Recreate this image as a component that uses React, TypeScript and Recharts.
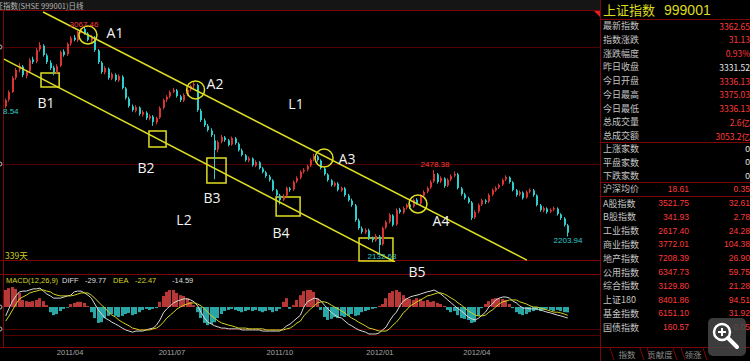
import React from 'react';
import {
  ComposedChart,
  Bar,
  Line,
  XAxis,
  YAxis,
  ReferenceLine,
  ReferenceDot,
  ReferenceArea
} from 'recharts';

// 上证指数 daily candles (2 trading days per candle)
const opens = [
  2740, 2768, 2800, 2858, 2892, 2904, 2866, 2884, 2934, 2925,
  2975, 2990, 2950, 2920, 2900, 2880, 2908, 2966, 2955, 2999,
  3024, 3012, 3049, 3058, 3040, 3012, 3024, 2970, 2920, 2880,
  2895, 2855, 2870, 2847, 2862, 2814, 2772, 2740, 2722, 2735,
  2706, 2714, 2690, 2698, 2674, 2694, 2735, 2768, 2781, 2801,
  2806, 2781, 2764, 2789, 2810, 2826, 2828, 2722, 2682, 2660,
  2640, 2600, 2562, 2595, 2612, 2600, 2583, 2608, 2586, 2558,
  2538, 2517, 2525, 2496, 2509, 2484, 2468, 2451, 2435, 2394,
  2373, 2356, 2373, 2402, 2398, 2431, 2447, 2472, 2480, 2496,
  2521, 2534, 2517, 2484, 2459, 2435, 2414, 2422, 2394, 2402,
  2373, 2352, 2332, 2270, 2237, 2221, 2229, 2196, 2188, 2204,
  2172, 2241, 2266, 2291, 2254, 2315, 2303, 2323, 2336, 2328,
  2356, 2340, 2373, 2389, 2406, 2431, 2460, 2431, 2443, 2414,
  2439, 2455, 2460, 2402, 2377, 2361, 2344, 2282, 2307, 2336,
  2352, 2348, 2377, 2394, 2406, 2418, 2439, 2447, 2427, 2394,
  2377, 2385, 2365, 2389, 2394, 2373, 2332, 2311, 2319, 2307,
  2315, 2319, 2295, 2278, 2250
];
const highs = [
  2772, 2806, 2865, 2898, 2918, 2910, 2890, 2938, 2945, 2980,
  3005, 2996, 2958, 2930, 2908, 2914, 2970, 2975, 3004, 3030,
  3034, 3052, 3062, 3067.46, 3046, 3034, 3030, 2976, 2926, 2906,
  2900, 2880, 2876, 2872, 2868, 2820, 2780, 2748, 2745, 2740,
  2724, 2720, 2708, 2704, 2698, 2740, 2772, 2786, 2806, 2816,
  2812, 2788, 2794, 2815, 2830, 2842, 2834, 2730, 2690, 2668,
  2650, 2625, 2600, 2622, 2618, 2606, 2616, 2614, 2592, 2566,
  2544, 2534, 2530, 2518, 2514, 2490, 2474, 2458, 2440, 2400,
  2380, 2378, 2410, 2408, 2435, 2452, 2476, 2486, 2500, 2526,
  2545, 2540, 2522, 2490, 2465, 2440, 2430, 2428, 2410, 2408,
  2380, 2360, 2338, 2278, 2245, 2238, 2236, 2204, 2214, 2210,
  2245, 2270, 2300, 2296, 2320, 2322, 2328, 2340, 2342, 2360,
  2362, 2378, 2394, 2410, 2436, 2478.38, 2466, 2452, 2448, 2444,
  2460, 2472, 2466, 2408, 2384, 2368, 2350, 2312, 2340, 2360,
  2358, 2382, 2402, 2410, 2422, 2443, 2456, 2452, 2432, 2400,
  2394, 2390, 2394, 2402, 2400, 2378, 2338, 2328, 2324, 2320,
  2328, 2324, 2300, 2284, 2256
];
const lows = [
  2732, 2760, 2795, 2850, 2880, 2860, 2855, 2878, 2915, 2918,
  2966, 2945, 2915, 2890, 2868, 2875, 2902, 2945, 2948, 2990,
  3008, 3005, 3040, 3035, 3008, 3004, 2965, 2915, 2874, 2872,
  2850, 2848, 2842, 2840, 2810, 2768, 2735, 2718, 2715, 2702,
  2698, 2684, 2682, 2660, 2666, 2688, 2728, 2758, 2774, 2795,
  2776, 2758, 2758, 2782, 2802, 2815, 2718, 2676, 2655, 2636,
  2614, 2440, 2550, 2588, 2594, 2575, 2578, 2582, 2554, 2534,
  2512, 2510, 2492, 2490, 2480, 2464, 2446, 2430, 2390, 2368,
  2336, 2350, 2368, 2388, 2392, 2424, 2440, 2464, 2472, 2490,
  2514, 2512, 2480, 2455, 2430, 2410, 2408, 2390, 2388, 2368,
  2348, 2326, 2265, 2232, 2215, 2214, 2190, 2180, 2182, 2132.63,
  2166, 2234, 2258, 2245, 2248, 2298, 2296, 2316, 2318, 2322,
  2335, 2334, 2366, 2382, 2400, 2425, 2422, 2424, 2405, 2408,
  2432, 2448, 2398, 2372, 2356, 2340, 2272, 2276, 2300, 2330,
  2338, 2342, 2370, 2388, 2400, 2412, 2432, 2422, 2390, 2368,
  2370, 2356, 2360, 2382, 2368, 2328, 2306, 2304, 2298, 2300,
  2308, 2290, 2272, 2245, 2203.94
];
const closes = [
  2766, 2799, 2857, 2890, 2906, 2869, 2882, 2931, 2923, 2972,
  2993, 2952, 2923, 2898, 2882, 2906, 2964, 2952, 2997, 3022,
  3014, 3047, 3055, 3042, 3014, 3026, 2972, 2923, 2882, 2898,
  2857, 2873, 2849, 2865, 2816, 2775, 2742, 2725, 2737, 2709,
  2717, 2692, 2700, 2676, 2692, 2733, 2766, 2779, 2799, 2808,
  2783, 2766, 2787, 2808, 2824, 2832, 2725, 2684, 2663, 2643,
  2622, 2560, 2593, 2614, 2602, 2581, 2610, 2589, 2560, 2540,
  2519, 2527, 2498, 2511, 2486, 2470, 2453, 2437, 2396, 2375,
  2354, 2371, 2404, 2396, 2429, 2445, 2470, 2478, 2494, 2519,
  2536, 2519, 2486, 2461, 2437, 2416, 2424, 2396, 2404, 2375,
  2354, 2334, 2272, 2239, 2223, 2231, 2198, 2190, 2206, 2169,
  2239, 2264, 2293, 2252, 2313, 2305, 2321, 2334, 2326, 2354,
  2342, 2371, 2387, 2404, 2429, 2462, 2429, 2445, 2412, 2437,
  2453, 2462, 2404, 2379, 2363, 2346, 2280, 2305, 2334, 2354,
  2346, 2375, 2396, 2404, 2416, 2437, 2449, 2429, 2396, 2375,
  2387, 2363, 2387, 2396, 2375, 2334, 2313, 2321, 2305, 2313,
  2321, 2297, 2280, 2252, 2220
];

// MACD(12,26,9)
const macdHist = [
  46, 51, 54, 49, 38, 19, 16, 14, 16, 19,
  24, 16, 5, -14, -22, -19, -11, -5, -2, 8,
  11, 14, 14, 11, 3, -14, -30, -43, -41, -30,
  -24, -19, -24, -27, -24, -19, -16, -22, -19, -14,
  -8, -5, -8, -5, -3, 14, 30, 41, 46, 46,
  38, 32, 30, 24, 14, 5, -14, -30, -43, -49,
  -46, -41, -30, -19, -11, -8, -5, -8, -11, -14,
  -11, -8, -11, -8, -11, -14, -11, -8, -14, -11,
  -5, 14, 24, -5, 5, 19, 32, 43, 46, 46,
  41, 24, -8, -27, -35, -32, -27, -30, -24, -27,
  -24, -19, -24, -22, -14, -11, -8, -5, -3, 3,
  8, 24, 38, 43, 46, 41, 32, 24, 22, 19,
  24, 22, 16, 19, 14, 16, 11, 8, 3, -8,
  -14, -11, -22, -30, -32, -35, -43, -41, -24, -3,
  8, 16, 22, 24, 24, 22, 19, 8, -3, -14,
  -19, -22, -19, -14, -11, -8, -11, -8, -5, -8,
  -11, -8, -11, -14, -14.59
];
const macdDiff = [
  -24, -3, 16, 30, 41, 43, 43, 46, 49, 49,
  51, 43, 35, 30, 24, 24, 24, 27, 30, 32,
  41, 43, 43, 38, 32, 24, 8, -8, -19, -30,
  -35, -41, -46, -51, -57, -62, -65, -68, -65, -65,
  -65, -62, -59, -57, -49, -35, -16, -5, 3, 11,
  16, 19, 22, 22, 19, 14, 3, -14, -30, -41,
  -46, -51, -54, -57, -57, -59, -59, -59, -59, -62,
  -62, -62, -62, -62, -62, -65, -65, -65, -65, -65,
  -65, -59, -51, -46, -38, -30, -22, 0, 14, 19,
  24, 22, 16, 5, -5, -14, -22, -27, -30, -38,
  -46, -51, -57, -62, -65, -68, -73, -73, -73, -70,
  -62, -54, -38, -24, -14, 3, 16, 22, 27, 30,
  32, 35, 38, 41, 43, 46, 41, 35, 27, 19,
  11, 3, -5, -11, -19, -27, -32, -35, -30, -22,
  -14, 0, 8, 19, 24, 27, 27, 24, 16, 11,
  3, -3, -3, -5, -5, -5, -8, -11, -14, -16,
  -19, -22, -24, -27, -29.77
];
const macdDea = [
  -38, -24, -8, 8, 22, 27, 32, 38, 41, 43,
  46, 46, 43, 41, 35, 32, 30, 30, 30, 30,
  32, 35, 38, 38, 38, 32, 24, 14, 5, -3,
  -14, -22, -27, -35, -41, -46, -51, -57, -59, -62,
  -62, -62, -62, -59, -57, -51, -41, -30, -22, -14,
  -5, 0, 5, 8, 11, 11, 8, 3, -5, -14,
  -24, -30, -38, -43, -46, -49, -51, -54, -57, -57,
  -57, -59, -59, -59, -59, -59, -62, -62, -62, -62,
  -62, -62, -59, -57, -51, -43, -38, -24, -14, -5,
  3, 11, 14, 14, 11, 5, 0, -5, -11, -16,
  -24, -30, -35, -41, -46, -51, -57, -59, -62, -65,
  -65, -65, -59, -49, -41, -30, -16, -8, 3, 8,
  14, 19, 24, 30, 32, 35, 38, 38, 35, 30,
  24, 19, 11, 5, -3, -11, -16, -22, -24, -24,
  -22, -14, -8, 0, 8, 14, 16, 19, 19, 19,
  14, 11, 8, 3, 0, 0, -3, -5, -8, -11,
  -14, -14, -16, -19, -22.47
];

const tickIdx = [18.8, 48.5, 80, 109.2, 137.5];
const tickLabels = ['2011/04', '2011/07', '2011/10', '2012/01', '2012/04'];

// channel drawn on the chart (candle index, price)
const lineL1 = [{ x: 10.9, y: 3129 }, { x: 152.1, y: 2107 }];
const lineL2 = [{ x: -0.5, y: 2935 }, { x: 113.6, y: 2099 }];
const rings = [
  { x: 24, y: 3034 },
  { x: 55.4, y: 2808 },
  { x: 92.9, y: 2527 },
  { x: 120.3, y: 2338 }
];
const boxes = [
  { x1: 10.3, x2: 15.6, y1: 2820, y2: 2878 },
  { x1: 41.8, x2: 46.8, y1: 2573, y2: 2639 },
  { x1: 58.7, x2: 64.3, y1: 2424, y2: 2527 },
  { x1: 78.9, x2: 85.9, y1: 2288, y2: 2367 },
  { x1: 103.1, x2: 113.0, y1: 2103, y2: 2198 }
];

// right-hand quote panel
const quoteLabels = ['最新指数', '指数涨跌', '涨跌幅度', '昨日收盘', '今日开盘', '今日最高', '今日最低', '总成交量', '总成交额'];
const quoteValues = ['3362.65', '31.13', '0.93%', '3331.52', '3336.13', '3375.03', '3336.13', '2.6亿', '3053.2亿'];
const breadthLabels = ['上涨家数', '平盘家数', '下跌家数'];
const breadthValues = ['0', '0', '0'];
const indexLabels = ['A股指数', 'B股指数', '工业指数', '商业指数', '地产指数', '公用指数', '综合指数', '上证180', '基金指数', '国债指数'];
const indexValues = ['3521.75', '341.93', '2617.40', '3772.01', '7208.39', '6347.73', '3129.80', '8401.86', '6151.10', '160.57'];
const indexChanges = ['32.61', '2.78', '24.28', '104.38', '26.90', '59.75', '21.28', '94.51', '31.92', '0.05'];

const UP = '#d83434';
const DOWN = '#2fcccc';
const YEL = '#dede22';
const RED_TXT = '#ff3a3a';
const BORDER = '#7c0606';
const GRID = '#520000';
const CJK = '"Noto Sans CJK SC", sans-serif';
const NUM = '"Liberation Sans", Arial, sans-serif';

const kRows = closes.map((c, i) => ({ i, o: opens[i], h: highs[i], l: lows[i], c }));
const mRows = macdHist.map((v, i) => ({ i, hist: v, diff: macdDiff[i], dea: macdDea[i] }));

const Candle = (p: any) => {
  const { x, y, width, height, payload } = p;
  if (!payload || height == null || isNaN(y)) return <g />;
  const top = Math.min(y, y + height);
  const span = Math.abs(height);
  const k = span / (payload.h - payload.l || 1);
  const color = payload.c >= payload.o ? UP : DOWN;
  const bodyTop = top + (payload.h - Math.max(payload.o, payload.c)) * k;
  const bodyH = Math.max(1, Math.abs(payload.o - payload.c) * k);
  const cx = Math.round(x + width / 2);
  return (
    <g>
      <line x1={cx - 0.5} x2={cx - 0.5} y1={top} y2={top + span} stroke={color} strokeWidth={1} />
      <rect x={cx - 1} y={bodyTop} width={2} height={bodyH} fill={color} />
    </g>
  );
};

const HistBar = (p: any) => {
  const { x, y, width, height, payload } = p;
  if (!payload || height == null || isNaN(y)) return <g />;
  const top = Math.min(y, y + height);
  return (
    <rect
      x={Math.round(x)}
      y={top}
      width={Math.max(1, width)}
      height={Math.abs(height)}
      fill={payload.hist >= 0 ? '#b83838' : '#2aa6a6'}
    />
  );
};

const Frame = () => (
  <svg width={750} height={361} style={{ position: 'absolute', left: 0, top: 0 }}>
    <rect width={750} height={361} fill="#000" />
    <rect x={0} y={0} width={600} height={10} fill="#151515" />
    {[10.5, 260.5, 274.5, 347.5].map((y) => (
      <line key={y} x1={0} x2={600} y1={y} y2={y} stroke={BORDER} />
    ))}
    {[47.5, 164.5, 329.5, 335.5].map((y) => (
      <line key={y} x1={4} x2={600} y1={y} y2={y} stroke={GRID} />
    ))}
    <line x1={3.5} x2={3.5} y1={11} y2={348} stroke={BORDER} />
    <line x1={600.5} x2={600.5} y1={0} y2={361} stroke={BORDER} />
    {[19.5, 142.5, 182.5, 196.5, 347.5].map((y) => (
      <line key={y} x1={600} x2={750} y1={y} y2={y} stroke={BORDER} />
    ))}
  </svg>
);

const Overlay = () => {
  const labels: [string, number, number][] = [
    ['A1', 115, 32], ['A2', 215, 83], ['A3', 347, 158], ['A4', 441, 220],
    ['B1', 46, 102], ['B2', 146, 167], ['B3', 212, 197], ['B4', 281, 232], ['B5', 417, 271],
    ['L1', 296, 103], ['L2', 184, 219]
  ];
  return (
    <svg width={750} height={361} style={{ position: 'absolute', left: 0, top: 0, pointerEvents: 'none' }}>
      {/* header, cut at the left edge as in the screenshot */}
      <text x={-12} y={5.5} fontSize={7.5} fill="#b4b4b4" fontFamily={CJK} dominantBaseline="central">
        上证指数(SHSE 999001)日线
      </text>
      {[47, 164, 307, 329].map((y) => (
        <circle key={y} cx={0} cy={y} r={2} fill="none" stroke="#bbb" strokeWidth={1} />
      ))}
      {/* annotation texts */}
      {labels.map(([t, x, y]) => (
        <text key={t} x={x} y={y} fontSize={14} fill="#f2f2f2" fontFamily='"Open Sans", sans-serif' textAnchor="middle" dominantBaseline="central">
          {t}
        </text>
      ))}
      <text x={84} y={24} fontSize={8} fill={RED_TXT} fontFamily={NUM} textAnchor="middle" dominantBaseline="central">3067.46</text>
      <text x={435} y={164} fontSize={8} fill={RED_TXT} fontFamily={NUM} textAnchor="middle" dominantBaseline="central">2478.38</text>
      <text x={382} y={256} fontSize={8} fill={DOWN} fontFamily={NUM} textAnchor="middle" dominantBaseline="central">2132.63</text>
      <text x={568} y={240} fontSize={8} fill={DOWN} fontFamily={NUM} textAnchor="middle" dominantBaseline="central">2203.94</text>
      <text x={3} y={111} fontSize={8} fill={DOWN} fontFamily={NUM} dominantBaseline="central">8.54</text>
      <text x={5} y={255} fontSize={8.5} fill="#cccc20" fontFamily={CJK} dominantBaseline="central">339天</text>
      {/* MACD header */}
      <g fontSize={7.5} fontFamily={NUM} dominantBaseline="central">
        <text x={6} y={280.5} fill="#d6d620">MACD(12,26,9)</text>
        <text x={62} y={280.5} fill="#dddddd">DIFF</text>
        <text x={85} y={280.5} fill="#dddddd">-29.77</text>
        <text x={113} y={280.5} fill="#d6d620">DEA</text>
        <text x={135} y={280.5} fill="#d6d620">-22.47</text>
        <text x={172} y={280.5} fill="#dddddd">-14.59</text>
      </g>
      {/* right panel */}
      <polygon points="594,11 600,11 600,17" fill="#e02020" />
      <text x={603} y={9.5} fontSize={13} fill="#dcdc1e" fontFamily={CJK} dominantBaseline="central">上证指数</text>
      <text x={664} y={10} fontSize={14} fill="#dcdc1e" fontFamily={NUM} dominantBaseline="central">999001</text>
      {quoteLabels.map((t, i) => (
        <g key={t}>
          <text x={603} y={25.5 + i * 13.75} fontSize={9} fill="#c4c4c4" fontFamily={CJK} dominantBaseline="central">{t}</text>
          <text x={750} y={25.5 + i * 13.75} fontSize={8.5} fill={i === 3 ? '#e8e8e8' : RED_TXT} fontFamily={CJK} textAnchor="end" dominantBaseline="central">{quoteValues[i]}</text>
        </g>
      ))}
      {breadthLabels.map((t, i) => (
        <g key={t}>
          <text x={603} y={148.5 + i * 13.5} fontSize={9} fill="#c4c4c4" fontFamily={CJK} dominantBaseline="central">{t}</text>
          <text x={750} y={148.5 + i * 13.5} fontSize={8.5} fill="#e8e8e8" fontFamily={NUM} textAnchor="end" dominantBaseline="central">{breadthValues[i]}</text>
        </g>
      ))}
      <text x={603} y={188.5} fontSize={9} fill="#c4c4c4" fontFamily={CJK} dominantBaseline="central">沪深均价</text>
      <text x={689} y={188.5} fontSize={8.5} fill={RED_TXT} fontFamily={NUM} textAnchor="end" dominantBaseline="central">18.61</text>
      <text x={750} y={188.5} fontSize={8.5} fill={RED_TXT} fontFamily={NUM} textAnchor="end" dominantBaseline="central">0.35</text>
      {indexLabels.map((t, i) => (
        <g key={t}>
          <text x={603} y={203 + i * 13.8} fontSize={9} fill="#c4c4c4" fontFamily={CJK} dominantBaseline="central">{t}</text>
          <text x={689} y={203 + i * 13.8} fontSize={8.5} fill={RED_TXT} fontFamily={NUM} textAnchor="end" dominantBaseline="central">{indexValues[i]}</text>
          <text x={750} y={203 + i * 13.8} fontSize={8.5} fill={RED_TXT} fontFamily={NUM} textAnchor="end" dominantBaseline="central">{indexChanges[i]}</text>
        </g>
      ))}
      {/* tabs */}
      <path d="M610 348 L614 360 M640 348 L644 360 M647 348 L651 360 M673 348 L677 360 M681 348 L685 360 M703 348 L707 360" stroke={BORDER} fill="none" />
      <g fontSize={8.5} fill="#8c8c8c" fontFamily={CJK} textAnchor="middle" dominantBaseline="central">
        <text x={627} y={354}>指数</text>
        <text x={660} y={354}>贡献度</text>
        <text x={693} y={354}>领涨</text>
      </g>
      {/* viewer magnifier */}
      <rect x={708} y={318} width={38} height={38} rx={5} fill="rgba(70,70,70,0.85)" />
      <circle cx={722} cy={332} r={8} fill="none" stroke="#fff" strokeWidth={2.5} />
      <path d="M718 332 H726 M722 328 V336" stroke="#fff" strokeWidth={2} />
      <line x1={728} y1={338} x2={737} y2={347} stroke="#fff" strokeWidth={4} strokeLinecap="round" />
    </svg>
  );
};

export default function App() {
  return (
    <div style={{ position: 'absolute', left: 0, top: 0, width: 750, height: 361, overflow: 'hidden', background: '#000' }}>
      <Frame />
      <div style={{ position: 'absolute', left: 0, top: 0 }}>
        <ComposedChart width={590} height={262} data={kRows} margin={{ top: 11, right: 0, left: 4, bottom: 0 }}>
          <XAxis dataKey="i" type="number" domain={[-0.5, 170.5]} hide allowDataOverflow />
          <YAxis type="number" domain={[2099, 3133]} hide allowDataOverflow />
          <Bar dataKey={(d: any) => [d.l, d.h]} barSize={2} shape={Candle} isAnimationActive={false} />
          <ReferenceLine segment={lineL1} stroke={YEL} strokeWidth={1.5} ifOverflow="visible" />
          <ReferenceLine segment={lineL2} stroke={YEL} strokeWidth={1.5} ifOverflow="visible" />
          {rings.map((r, i) => (
            <ReferenceDot key={i} x={r.x} y={r.y} r={9} fill="none" stroke={YEL} strokeWidth={1.5} ifOverflow="visible" />
          ))}
          {boxes.map((b, i) => (
            <ReferenceArea key={i} x1={b.x1} x2={b.x2} y1={b.y1} y2={b.y2} fill="none" fillOpacity={0} stroke={YEL} strokeWidth={1.5} ifOverflow="visible" />
          ))}
        </ComposedChart>
      </div>
      <div style={{ position: 'absolute', left: 0, top: 276 }}>
        <ComposedChart width={590} height={85} data={mRows} margin={{ top: 0, right: 0, left: 4, bottom: 0 }}>
          <XAxis
            dataKey="i"
            type="number"
            domain={[-0.5, 170.5]}
            ticks={tickIdx}
            interval={0}
            tickFormatter={(v: number) => tickLabels[tickIdx.indexOf(v)] || ''}
            axisLine={false}
            tickLine={false}
            tickSize={0}
            tickMargin={4}
            height={15}
            tick={{ fill: '#a8a8a8', fontSize: 7.5, fontFamily: NUM }}
            allowDataOverflow
          />
          <YAxis type="number" domain={[-105.4, 83.8]} hide allowDataOverflow />
          <Bar dataKey="hist" barSize={3} shape={HistBar} isAnimationActive={false} />
          <Line dataKey="diff" stroke="#d8d8d8" strokeWidth={1} dot={false} isAnimationActive={false} />
          <Line dataKey="dea" stroke="#d4d420" strokeWidth={1} dot={false} isAnimationActive={false} />
        </ComposedChart>
      </div>
      <Overlay />
    </div>
  );
}
